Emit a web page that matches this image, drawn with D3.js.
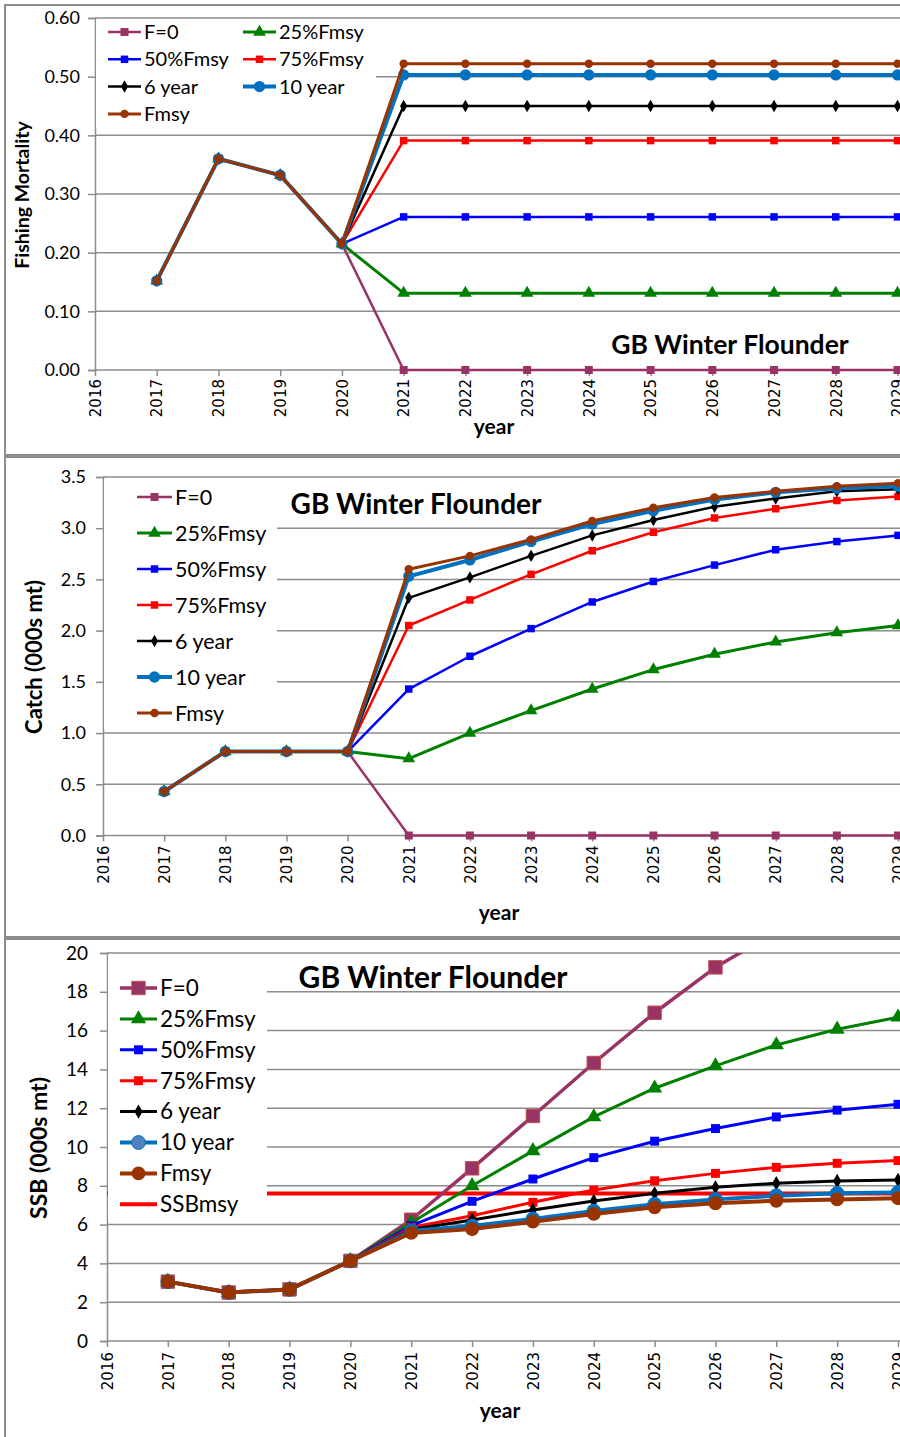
<!DOCTYPE html>
<html>
<head>
<meta charset="utf-8">
<script src="https://cdn.jsdelivr.net/npm/d3@7"></script>
<style>
  body { margin: 0; background: #fff; }
  text { font-family: Lato, "Open Sans", sans-serif; fill: #000; }
</style>
</head>
<body>
<svg id="chart" width="900" height="1437"></svg>
<script>
// categories
const years = [2017, 2018, 2019, 2020, 2021, 2022, 2023, 2024, 2025, 2026, 2027, 2028, 2029];
const seriesNames = ["F=0", "25%Fmsy", "50%Fmsy", "75%Fmsy", "6 year", "10 year", "Fmsy"];

// fishing mortality, one row per series (same order as seriesNames)
const mortality = [
  [0.152, 0.360, 0.332, 0.215, 0, 0, 0, 0, 0, 0, 0, 0, 0],
  [0.152, 0.360, 0.332, 0.215, 0.131, 0.131, 0.131, 0.131, 0.131, 0.131, 0.131, 0.131, 0.131],
  [0.152, 0.360, 0.332, 0.215, 0.261, 0.261, 0.261, 0.261, 0.261, 0.261, 0.261, 0.261, 0.261],
  [0.152, 0.360, 0.332, 0.215, 0.391, 0.391, 0.391, 0.391, 0.391, 0.391, 0.391, 0.391, 0.391],
  [0.152, 0.360, 0.332, 0.215, 0.450, 0.450, 0.450, 0.450, 0.450, 0.450, 0.450, 0.450, 0.450],
  [0.152, 0.360, 0.332, 0.215, 0.503, 0.503, 0.503, 0.503, 0.503, 0.503, 0.503, 0.503, 0.503],
  [0.152, 0.360, 0.332, 0.215, 0.522, 0.522, 0.522, 0.522, 0.522, 0.522, 0.522, 0.522, 0.522]
];

// catch (000s mt)
const catches = [
  [0.43, 0.82, 0.82, 0.82, 0, 0, 0, 0, 0, 0, 0, 0, 0],
  [0.43, 0.82, 0.82, 0.82, 0.75, 1.00, 1.22, 1.43, 1.62, 1.77, 1.89, 1.98, 2.05],
  [0.43, 0.82, 0.82, 0.82, 1.43, 1.75, 2.02, 2.28, 2.48, 2.64, 2.79, 2.87, 2.93],
  [0.43, 0.82, 0.82, 0.82, 2.05, 2.30, 2.55, 2.78, 2.96, 3.10, 3.19, 3.27, 3.31],
  [0.43, 0.82, 0.82, 0.82, 2.32, 2.52, 2.73, 2.93, 3.08, 3.21, 3.29, 3.36, 3.38],
  [0.43, 0.82, 0.82, 0.82, 2.53, 2.69, 2.87, 3.04, 3.17, 3.28, 3.35, 3.39, 3.41],
  [0.43, 0.82, 0.82, 0.82, 2.60, 2.73, 2.89, 3.07, 3.20, 3.30, 3.36, 3.41, 3.44]
];

// SSB (000s mt)
const ssb = [
  [3.06, 2.50, 2.66, 4.13, 6.25, 8.90, 11.60, 14.33, 16.92, 19.26, 21.10, 22.60, 23.80],
  [3.06, 2.50, 2.66, 4.13, 6.10, 8.00, 9.80, 11.55, 13.03, 14.18, 15.26, 16.07, 16.69],
  [3.06, 2.50, 2.66, 4.13, 5.95, 7.20, 8.35, 9.45, 10.30, 10.95, 11.55, 11.90, 12.20],
  [3.06, 2.50, 2.66, 4.13, 5.85, 6.46, 7.15, 7.78, 8.26, 8.64, 8.95, 9.16, 9.30],
  [3.06, 2.50, 2.66, 4.13, 5.75, 6.24, 6.75, 7.22, 7.61, 7.92, 8.13, 8.25, 8.30],
  [3.06, 2.50, 2.66, 4.13, 5.68, 5.93, 6.29, 6.70, 7.05, 7.30, 7.49, 7.61, 7.66],
  [3.06, 2.50, 2.66, 4.13, 5.57, 5.77, 6.15, 6.55, 6.89, 7.10, 7.23, 7.30, 7.36]
];
const ssbMsy = 7.6;

// axis ticks
const xTicks = [2016, 2017, 2018, 2019, 2020, 2021, 2022, 2023, 2024, 2025, 2026, 2027, 2028, 2029];
const yTicksF = [0, 0.1, 0.2, 0.3, 0.4, 0.5, 0.6];
const yTicksCatch = [0, 0.5, 1.0, 1.5, 2.0, 2.5, 3.0, 3.5];
const yTicksSsb = [0, 2, 4, 6, 8, 10, 12, 14, 16, 18, 20];

const colors = ["#993366", "#008000", "#0000ff", "#ff0000", "#000000", "#0070c0", "#993300"];
const shapes = [d3.symbolSquare, d3.symbolTriangle, d3.symbolSquare, d3.symbolSquare,
                d3.symbolDiamond, d3.symbolCircle, d3.symbolCircle];

const svg = d3.select("#chart");
const gridColor = "#8c8c8c";

const drawPanel = (p, idx) => {
  const x = d3.scaleLinear().domain([2016, 2029]).range([p.left, p.right]);
  const y = d3.scaleLinear().domain([0, p.yMax]).range([p.bottom, p.top]);
  const g = svg.append("g");

  // panel frame
  g.append("rect")
    .attr("x", 5).attr("y", p.frameTop)
    .attr("width", 910).attr("height", p.frameH)
    .attr("fill", "none").attr("stroke", "#8c8c8c").attr("stroke-width", 2);

  // gridlines
  g.selectAll(".grid")
    .data(p.yTicks.slice(1))
    .enter().append("line")
    .attr("x1", p.left).attr("x2", 900)
    .attr("y1", d => y(d)).attr("y2", d => y(d))
    .attr("stroke", gridColor).attr("stroke-width", 1.5);

  // y axis
  const yAxis = g.append("g")
    .attr("transform", `translate(${p.left},0)`)
    .call(d3.axisLeft(y).tickValues(p.yTicks).tickSize(7).tickPadding(p.tickPad).tickFormat(p.fmt));
  yAxis.select(".domain").attr("stroke", gridColor).attr("stroke-width", 1.5);
  yAxis.selectAll(".tick line").attr("stroke", gridColor).attr("stroke-width", 1.5);
  yAxis.selectAll(".tick text")
    .style("font-family", "Lato, sans-serif")
    .style("font-size", p.yFont + "px").attr("fill", "#000");

  // x axis
  const xAxis = g.append("g")
    .attr("transform", `translate(0,${p.bottom})`)
    .call(d3.axisBottom(x).tickValues(xTicks).tickSize(6).tickFormat(d3.format("d")));
  xAxis.select(".domain").attr("stroke", gridColor).attr("stroke-width", 1.5)
    .attr("d", `M${p.left},0H900`);
  xAxis.selectAll(".tick line").attr("stroke", gridColor).attr("stroke-width", 1.5);
  xAxis.selectAll(".tick text")
    .attr("transform", `translate(0,${p.xLabPad}) rotate(-90)`)
    .attr("x", 0).attr("y", 0).attr("dy", "0.35em")
    .attr("text-anchor", "end")
    .style("font-family", "'DejaVu Sans', Verdana, sans-serif")
    .style("font-size", "15px").attr("fill", "#333");

  // axis titles
  g.append("text")
    .attr("transform", `translate(${p.yTitleX},${p.yTitleY}) rotate(-90)`)
    .attr("text-anchor", "middle")
    .style("font-size", p.yTitleFont + "px").style("font-weight", "bold")
    .text(p.yTitle);
  g.append("text")
    .attr("x", p.xTitleX).attr("y", p.xTitleY)
    .attr("text-anchor", "middle")
    .style("font-size", "21px").style("font-weight", "bold")
    .text("year");

  // clip
  const clipId = "clip" + idx;
  g.append("clipPath").attr("id", clipId)
    .append("rect").attr("x", p.left - 10).attr("y", p.top).attr("width", 920).attr("height", p.bottom - p.top + 12);

  const plot = g.append("g").attr("clip-path", `url(#${clipId})`);

  if (p.refLine !== undefined) {
    plot.append("line")
      .attr("x1", p.left).attr("x2", 900)
      .attr("y1", y(p.refLine)).attr("y2", y(p.refLine))
      .attr("stroke", "#ff0000").attr("stroke-width", 4);
  }

  const line = d3.line().x((d, i) => x(years[i])).y(d => y(d));

  p.data.forEach((vals, s) => {
    const st = p.styles[s];
    plot.append("path")
      .attr("d", line(vals))
      .attr("fill", "none")
      .attr("stroke", colors[s])
      .attr("stroke-width", st.w)
      .attr("stroke-linejoin", "round");
    plot.selectAll(".m" + s)
      .data(vals)
      .enter().append("path")
      .attr("transform", (d, i) => `translate(${x(years[i])},${y(d)})`)
      .attr("d", d3.symbol().type(shapes[s]).size(st.size))
      .attr("fill", st.fill || colors[s])
      .attr("stroke", st.stroke || "none")
      .attr("stroke-width", 1);
  });

  // legend
  const lg = p.legend;
  g.append("rect")
    .attr("x", p.left + 1).attr("y", lg.box[1])
    .attr("width", lg.box[0] - p.left - 1).attr("height", lg.box[2] - lg.box[1])
    .attr("fill", "#fff");

  const items = seriesNames.map((name, s) => ({ name, s }));
  if (p.refLine !== undefined) items.push({ name: "SSBmsy", s: -1 });

  items.forEach((it, k) => {
    const col = lg.cols === 2 ? k % 2 : 0;
    const row = lg.cols === 2 ? Math.floor(k / 2) : k;
    const x0 = lg.x[col];
    const cy = lg.y0 + row * lg.dy;
    const item = g.append("g");
    if (it.s < 0) {
      item.append("line")
        .attr("x1", x0).attr("x2", x0 + lg.len)
        .attr("y1", cy).attr("y2", cy)
        .attr("stroke", "#ff0000").attr("stroke-width", 4);
    } else {
      const st = p.styles[it.s];
      item.append("line")
        .attr("x1", x0).attr("x2", x0 + lg.len)
        .attr("y1", cy).attr("y2", cy)
        .attr("stroke", colors[it.s]).attr("stroke-width", st.w);
      item.append("path")
        .attr("transform", `translate(${x0 + lg.len / 2},${cy})`)
        .attr("d", d3.symbol().type(shapes[it.s]).size(st.size))
        .attr("fill", st.legendFill || st.fill || colors[it.s])
        .attr("stroke", st.stroke || "none");
    }
    item.append("text")
      .attr("x", x0 + lg.len + 3).attr("y", cy).attr("dy", "0.35em")
      .style("font-size", lg.font + "px")
      .text(it.name);
  });

  // title
  g.append("text")
    .attr("x", p.titleX).attr("y", p.titleY)
    .attr("text-anchor", "middle")
    .style("font-size", p.titleFont + "px").style("font-weight", "bold")
    .text("GB Winter Flounder");
};

const smallStyles = [
  { w: 2.5, size: 64 },
  { w: 3, size: 70 },
  { w: 2.5, size: 56 },
  { w: 2.5, size: 56 },
  { w: 2.5, size: 45 },
  { w: 4, size: 100 },
  { w: 3, size: 55 }
];
const ssbStyles = [
  { w: 3.5, size: 180, stroke: "#c0504d" },
  { w: 3, size: 100 },
  { w: 3, size: 80 },
  { w: 3, size: 80 },
  { w: 3, size: 60 },
  { w: 4, size: 150, stroke: "#0070c0", legendFill: "#4f81bd" },
  { w: 4, size: 150 }
];

const panels = [
  {
    frameTop: 5, frameH: 450,
    left: 95, right: 897.5, top: 18, bottom: 370, yMax: 0.6,
    yTicks: yTicksF, fmt: d3.format(".2f"), yFont: 18, tickPad: 8, xLabPad: 9,
    yTitle: "Fishing Mortality", yTitleX: 29, yTitleY: 195, yTitleFont: 19.5,
    xTitleX: 494, xTitleY: 434,
    data: mortality, styles: smallStyles,
    legend: { cols: 2, x: [108, 243], len: 33, y0: 32, dy: 27.3, font: 20, box: [376, 20, 128] },
    titleX: 730, titleY: 354, titleFont: 26.5
  },
  {
    frameTop: 457, frameH: 480,
    left: 103, right: 898, top: 477, bottom: 835.5, yMax: 3.5,
    yTicks: yTicksCatch, fmt: d3.format(".1f"), yFont: 18, tickPad: 10, xLabPad: 10,
    yTitle: "Catch (000s mt)", yTitleX: 42, yTitleY: 657, yTitleFont: 22,
    xTitleX: 499, xTitleY: 920,
    data: catches, styles: smallStyles,
    legend: { cols: 1, x: [137], len: 35, y0: 497, dy: 36, font: 21.5, box: [277, 479, 729] },
    titleX: 416, titleY: 514, titleFont: 28
  },
  {
    frameTop: 939, frameH: 505,
    left: 107, right: 898, top: 953, bottom: 1341, yMax: 20,
    yTicks: yTicksSsb, fmt: d3.format("d"), yFont: 19, tickPad: 12, xLabPad: 11,
    yTitle: "SSB (000s  mt)", yTitleX: 47, yTitleY: 1148, yTitleFont: 23,
    xTitleX: 500, xTitleY: 1418,
    data: ssb, styles: ssbStyles, refLine: ssbMsy,
    legend: { cols: 1, x: [120], len: 37, y0: 988, dy: 30.9, font: 22.5, box: [267, 955, 1221] },
    titleX: 433, titleY: 988, titleFont: 30
  }
];

panels.forEach(drawPanel);
</script>
</body>
</html>
